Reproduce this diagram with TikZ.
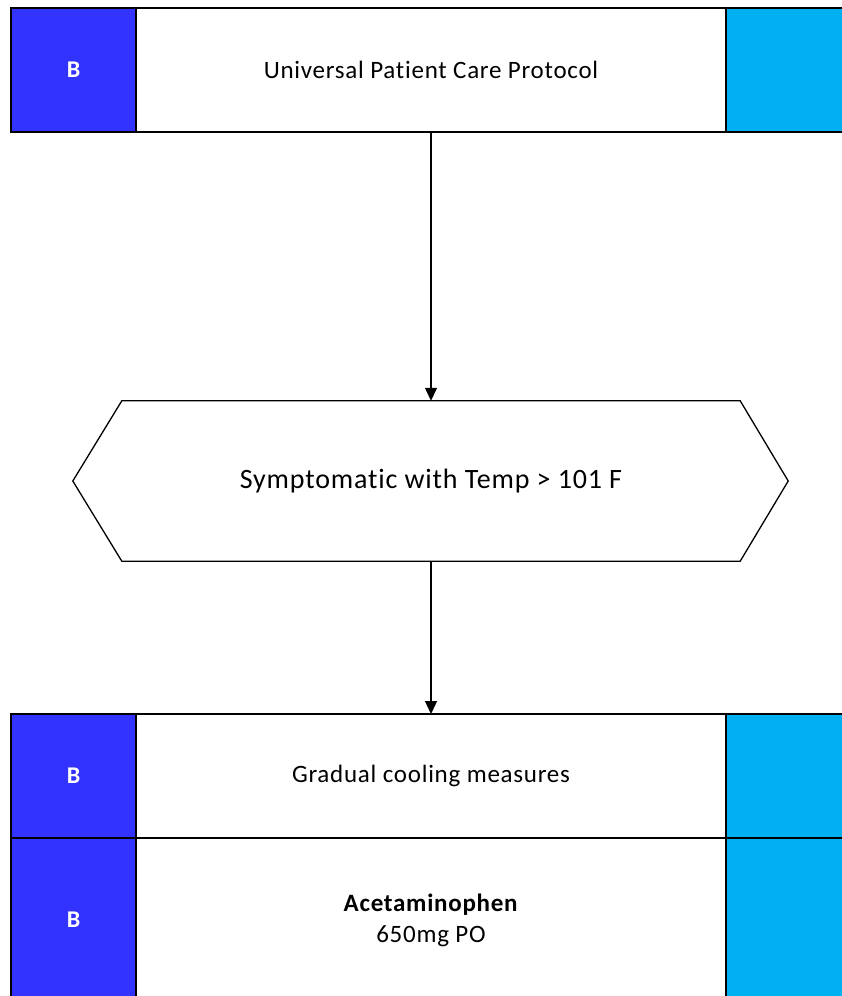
\documentclass[tikz,border=0pt]{standalone}
\usepackage{fontspec}
\setmainfont[Ligatures=NoCommon,LetterSpace=3]{Carlito}
\usetikzlibrary{arrows.meta}
\definecolor{bblue}{HTML}{3333FF}
\definecolor{bcyan}{HTML}{00B0F0}
\begin{document}
\begin{tikzpicture}[x=1pt,y=-1pt,
  cell/.style={draw=black,line width=1.8pt,inner sep=0pt,outer sep=0pt,anchor=north west},
  bcell/.style={cell,fill=bblue,text=white,font=\fontsize{24}{28}\selectfont\bfseries},
  wcell/.style={cell,fill=white,font=\fontsize{25}{31}\selectfont,align=center},
  ccell/.style={cell,fill=bcyan},
  conn/.style={line width=1.3pt,-{Triangle[length=13pt,width=12pt]}}]
\useasboundingbox (0,0) rectangle (842,996);
\fill[white] (0,0) rectangle (842,996);
% top row
\node[wcell,minimum width=590pt,minimum height=124pt] (t1) at (136,8) {Universal Patient Care Protocol};
\node[bcell,minimum width=125pt,minimum height=124pt] (b1) at (11,8) {B};
\node[ccell,minimum width=130pt,minimum height=124pt] (c1) at (726,8) {};
% hexagon
\node[inner sep=0pt,minimum width=618pt,minimum height=160pt,font=\fontsize{28}{32}\selectfont] (hex) at (431,481) {Symptomatic with Temp > 101 F};
\draw[line width=1.3pt,line join=miter] (hex.north west) -- (hex.north east) -- ([xshift=48pt]hex.east) -- (hex.south east) -- (hex.south west) -- ([xshift=-49pt]hex.west) -- cycle;
% bottom rows
\node[wcell,minimum width=590pt,minimum height=124pt] (t2) at (136,714) {Gradual cooling measures};
\node[bcell,minimum width=125pt,minimum height=124pt] (b2) at (11,714) {B};
\node[ccell,minimum width=130pt,minimum height=124pt] (c2) at (726,714) {};
\node[wcell,minimum width=590pt,minimum height=164pt] (t3) at (136,838) {\textbf{Acetaminophen}\\650mg PO};
\node[bcell,minimum width=125pt,minimum height=164pt] (b3) at (11,838) {B};
\node[ccell,minimum width=130pt,minimum height=164pt] (c3) at (726,838) {};
% connectors
\draw[conn] (t1.south -| hex.north) -- (hex.north);
\draw[conn] (hex.south) -- (t2.north -| hex.south);
\end{tikzpicture}
\end{document}
